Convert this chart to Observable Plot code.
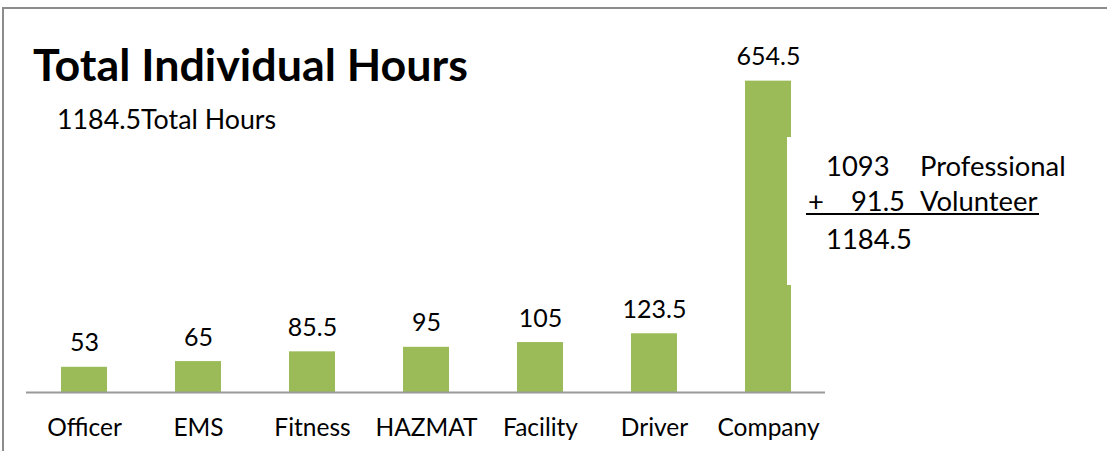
<!DOCTYPE html>
<html><head><meta charset="utf-8">
<script src="https://cdn.jsdelivr.net/npm/d3@7"></script>
<script src="https://cdn.jsdelivr.net/npm/@observablehq/plot@0.6"></script>
<style>
body{margin:0;background:#fff;}
#wrap{position:relative;width:1107px;height:451px;overflow:hidden;font-family:Lato,"Open Sans",sans-serif;color:#000;}
#frame{position:absolute;left:2px;top:7px;width:1200px;height:600px;border-left:2px solid #8c8c8c;border-top:2px solid #8c8c8c;pointer-events:none;}
#chart{position:absolute;left:0;top:0;}
.t{position:absolute;white-space:pre;line-height:1;}
#title{left:33px;top:42px;font-size:44.8px;font-weight:bold;}
#sub{left:57px;top:106px;font-size:26.8px;}
#box{position:absolute;left:787px;top:137px;width:330px;height:148px;background:#fff;}
.b{font-size:27.4px;}
#uline{position:absolute;left:806px;top:213px;width:233px;height:0;border-top:2px solid #000;}
</style></head>
<body>
<div id="wrap">
  <div id="chart"></div>
  <div id="frame"></div>
  <div class="t" id="title"></div>
  <div class="t" id="sub"></div>
  <div id="box"></div>
</div>
<script>
const categories = ["Officer", "EMS", "Fitness", "HAZMAT", "Facility", "Driver", "Company"];
const hours = [53, 65, 85.5, 95, 105, 123.5, 654.5];
const titleText = "Total Individual Hours";
const totalHours = 1184.5;
const totalLabel = "Total Hours";
const breakdownLabels = ["Professional", "Volunteer"];
const breakdownValues = [1093, 91.5];

const data = categories.map((c, i) => ({category: c, hours: hours[i]}));
const barColor = "#9bbb59";
const fmt = v => String(v);

const chart = Plot.plot({
  width: 1107,
  height: 451,
  marginLeft: 26,
  marginRight: 282,
  marginTop: 59,
  marginBottom: 59,
  style: {fontFamily: "Lato, 'Open Sans', sans-serif", background: "transparent", color: "#000"},
  x: {domain: categories, paddingInner: 0.6, paddingOuter: 0.3},
  y: {domain: [0, 700], axis: null},
  marks: [
    Plot.barY(data, {x: "category", y: "hours", fill: barColor}),
    Plot.ruleY([0], {stroke: "#9a9a9a", strokeWidth: 2}),
    Plot.text(data, {x: "category", y: "hours", text: d => fmt(d.hours), lineAnchor: "bottom", dy: -16, fontSize: 25, fill: "#000"}),
    Plot.axisX({tickSize: 0, tickPadding: 26, fontSize: 24.5, fill: "#000", label: null})
  ]
});
document.getElementById("chart").appendChild(chart);

document.getElementById("title").textContent = titleText;
document.getElementById("sub").textContent = totalHours + totalLabel;

const wrap = document.getElementById("wrap");
function addText(txt, left, top, align) {
  const el = document.createElement("div");
  el.className = "t b";
  el.textContent = txt;
  el.style.top = top + "px";
  if (align === "right") { el.style.right = (1107 - left) + "px"; } else { el.style.left = left + "px"; }
  wrap.appendChild(el);
}
const total = breakdownValues[0] + breakdownValues[1];
addText(String(breakdownValues[0]), 826, 152);
addText(breakdownLabels[0], 920, 152);
addText("+", 808, 187);
addText(String(breakdownValues[1]), 905, 187, "right");
addText(breakdownLabels[1], 920, 187);
addText(String(total), 826, 225);
const ul = document.createElement("div");
ul.id = "uline";
wrap.appendChild(ul);
</script>
</body></html>
